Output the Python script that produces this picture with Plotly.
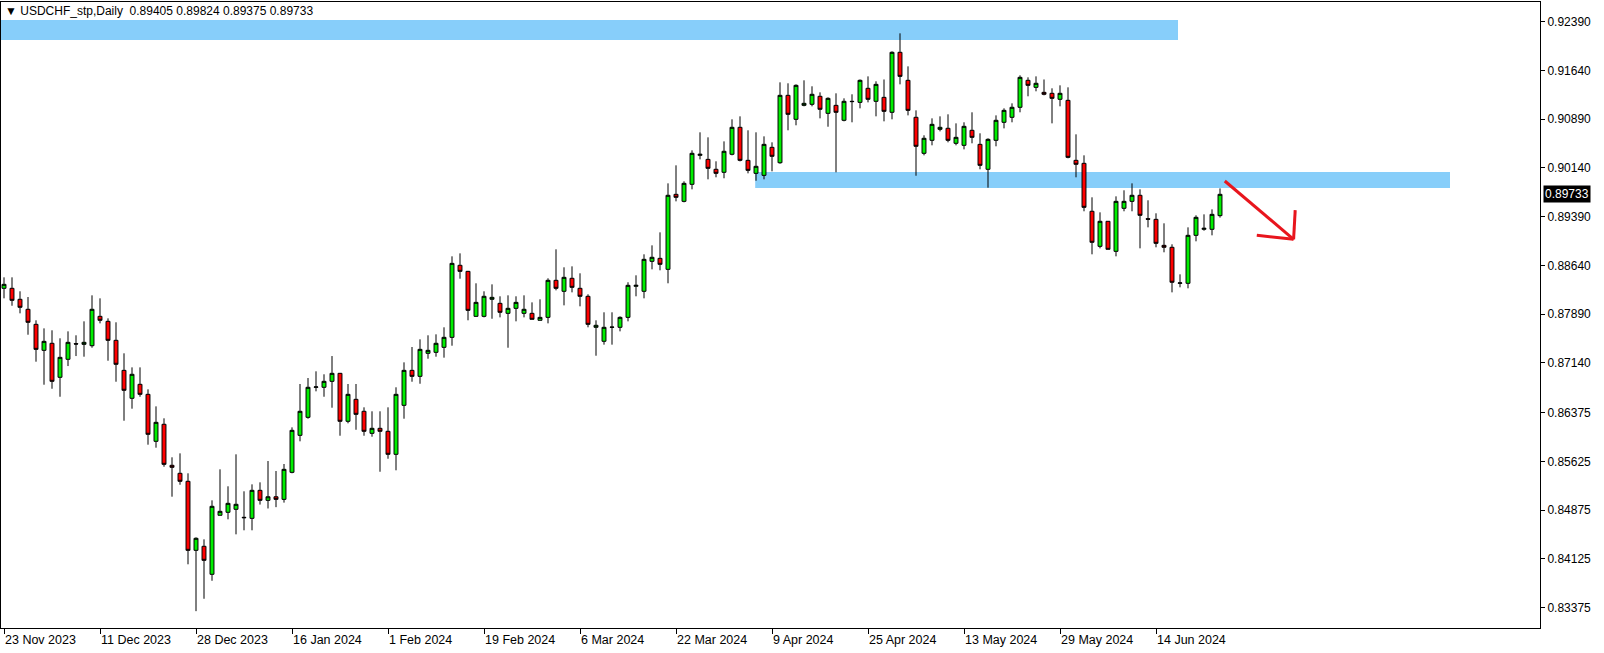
import plotly.graph_objects as go
import pandas as pd

# ---------------- data (USDCHF_stp, Daily) ----------------
opens = [0.88287, 0.88287, 0.88118, 0.87964, 0.87733, 0.87333, 0.87441, 0.86918, 0.87195, 0.87435,
         0.87425, 0.87404, 0.87856, 0.87779, 0.87487, 0.87025, 0.86595, 0.86810, 0.86656, 0.85933,
         0.86195, 0.85564, 0.85441, 0.85318, 0.84256, 0.84318, 0.83887, 0.84795, 0.84841, 0.84887,
         0.84764, 0.84748, 0.85179, 0.85025, 0.85080, 0.85040, 0.85456, 0.86025, 0.86302, 0.86764,
         0.86764, 0.86856, 0.86979, 0.86241, 0.86579, 0.86395, 0.86056, 0.86133, 0.86087, 0.85733,
         0.86487, 0.87025, 0.86933, 0.87287, 0.87302, 0.87379, 0.87533, 0.88641, 0.88548, 0.87856,
         0.87856, 0.88118, 0.88056, 0.87902, 0.87979, 0.87902, 0.87902, 0.87795, 0.87840, 0.88410,
         0.88241, 0.88441, 0.88287, 0.88164, 0.87687, 0.87472, 0.87687, 0.87687, 0.87840, 0.88318,
         0.88241, 0.88702, 0.88748, 0.88579, 0.89733, 0.89625, 0.89887, 0.90333, 0.90271, 0.90118,
         0.90072, 0.90349, 0.90764, 0.90256, 0.90056, 0.90025, 0.90456, 0.90219, 0.91256, 0.90887,
         0.91102, 0.91118, 0.91241, 0.90979, 0.91102, 0.90872, 0.91164, 0.91148, 0.91364, 0.91164,
         0.91225, 0.90995, 0.91918, 0.91487, 0.90918, 0.90364, 0.90564, 0.90733, 0.90749, 0.90518,
         0.90487, 0.90718, 0.90502, 0.90118, 0.90564, 0.90841, 0.90918, 0.91072, 0.91487, 0.91379,
         0.91302, 0.91287, 0.91195, 0.91179, 0.90256, 0.90210, 0.89472, 0.88933, 0.89318, 0.88856,
         0.89518, 0.89625, 0.89718, 0.89358, 0.89348, 0.88948, 0.88918, 0.88364, 0.88364, 0.89102,
         0.89195, 0.89195, 0.89405]
highs = [0.88456, 0.88456, 0.88241, 0.88153, 0.87795, 0.87671, 0.87641, 0.87518, 0.87625, 0.87564,
         0.87779, 0.88179, 0.88133, 0.87825, 0.87764, 0.87287, 0.87071, 0.87071, 0.86733, 0.86471,
         0.86287, 0.85687, 0.85748, 0.85441, 0.84456, 0.84425, 0.85025, 0.85502, 0.85241, 0.85733,
         0.85164, 0.85271, 0.85302, 0.85630, 0.85476, 0.85584, 0.86148, 0.86815, 0.86907, 0.87010,
         0.86964, 0.87245, 0.86985, 0.86815, 0.86815, 0.86456, 0.86395, 0.86395, 0.86456, 0.86764,
         0.87148, 0.87384, 0.87502, 0.87564, 0.87579, 0.87687, 0.88779, 0.88825, 0.88555, 0.88364,
         0.88241, 0.88348, 0.88164, 0.88179, 0.88164, 0.88179, 0.88071, 0.88118, 0.88441, 0.88887,
         0.88610, 0.88625, 0.88518, 0.88195, 0.87795, 0.87918, 0.87918, 0.87856, 0.88380, 0.88487,
         0.88810, 0.88948, 0.89148, 0.89902, 0.90179, 0.89933, 0.90410, 0.90687, 0.90610, 0.90241,
         0.90548, 0.90887, 0.90933, 0.90718, 0.90687, 0.90625, 0.90533, 0.91456, 0.91441, 0.91425,
         0.91487, 0.91395, 0.91302, 0.91225, 0.91287, 0.91210, 0.91272, 0.91500, 0.91548, 0.91472,
         0.91500, 0.91933, 0.92210, 0.91702, 0.91025, 0.90641, 0.90902, 0.90933, 0.90964, 0.90825,
         0.90841, 0.90995, 0.90672, 0.90595, 0.90948, 0.91056, 0.91133, 0.91564, 0.91533, 0.91548,
         0.91500, 0.91364, 0.91410, 0.91379, 0.90656, 0.90333, 0.89687, 0.89456, 0.89318, 0.89702,
         0.89795, 0.89902, 0.89810, 0.89641, 0.89441, 0.89287, 0.88964, 0.88502, 0.89225, 0.89410,
         0.89425, 0.89502, 0.89824]
lows = [0.88133, 0.88019, 0.87902, 0.87573, 0.87158, 0.86804, 0.86742, 0.86619, 0.87091, 0.87245,
        0.87235, 0.87373, 0.87748, 0.87173, 0.86850, 0.86250, 0.86435, 0.86619, 0.85881, 0.85835,
        0.85542, 0.85081, 0.85265, 0.84041, 0.83320, 0.83511, 0.83788, 0.84795, 0.84733, 0.84502,
        0.84564, 0.84564, 0.84960, 0.84900, 0.84920, 0.84990, 0.85441, 0.85933, 0.86281, 0.86702,
        0.86619, 0.86450, 0.86019, 0.86210, 0.86111, 0.86019, 0.86004, 0.85465, 0.85665, 0.85487,
        0.86281, 0.86850, 0.86819, 0.87204, 0.87235, 0.87220, 0.87404, 0.88435, 0.87795, 0.87850,
        0.87840, 0.87819, 0.87840, 0.87373, 0.87779, 0.87840, 0.87810, 0.87795, 0.87748, 0.88256,
        0.88025, 0.88225, 0.88010, 0.87687, 0.87250, 0.87420, 0.87420, 0.87625, 0.87779, 0.88164,
        0.88133, 0.88579, 0.88564, 0.88364, 0.89625, 0.89610, 0.89810, 0.90271, 0.89964, 0.89995,
        0.89980, 0.90333, 0.90240, 0.90056, 0.89942, 0.89964, 0.90087, 0.90204, 0.90718, 0.90795,
        0.91087, 0.91087, 0.90902, 0.90773, 0.90072, 0.90856, 0.90841, 0.91056, 0.91148, 0.90933,
        0.90856, 0.90887, 0.91425, 0.90948, 0.90019, 0.90333, 0.90487, 0.90702, 0.90533, 0.90487,
        0.90425, 0.90518, 0.90118, 0.89835, 0.90472, 0.90748, 0.90841, 0.90995, 0.91241, 0.91318,
        0.91256, 0.90825, 0.91087, 0.90287, 0.89995, 0.89472, 0.88810, 0.88902, 0.88887, 0.88779,
        0.89472, 0.89472, 0.88902, 0.89225, 0.88918, 0.88841, 0.88225, 0.88302, 0.88287, 0.89010,
        0.89173, 0.89102, 0.89375]
closes = [0.88348, 0.88102, 0.87995, 0.87764, 0.87348, 0.87471, 0.86856, 0.87225, 0.87456, 0.87430,
          0.87456, 0.87964, 0.87795, 0.87487, 0.87118, 0.86718, 0.86964, 0.86656, 0.86041, 0.86225,
          0.85579, 0.85533, 0.85318, 0.84256, 0.84441, 0.84102, 0.84933, 0.84856, 0.84979, 0.84964,
          0.84758, 0.85179, 0.85025, 0.85080, 0.85040, 0.85502, 0.86102, 0.86395, 0.86764, 0.86770,
          0.86856, 0.86979, 0.86241, 0.86656, 0.86348, 0.86087, 0.86133, 0.86087, 0.85733, 0.86656,
          0.87025, 0.86933, 0.87348, 0.87333, 0.87441, 0.87533, 0.88671, 0.88548, 0.87948, 0.88071,
          0.88164, 0.88148, 0.87918, 0.87979, 0.88071, 0.87964, 0.87810, 0.87840, 0.88410, 0.88287,
          0.88456, 0.88302, 0.88164, 0.87733, 0.87718, 0.87687, 0.87690, 0.87840, 0.88333, 0.88333,
          0.88733, 0.88764, 0.88656, 0.89718, 0.89687, 0.89902, 0.90364, 0.90349, 0.90133, 0.90056,
          0.90395, 0.90764, 0.90256, 0.90102, 0.90164, 0.90502, 0.90318, 0.91256, 0.90964, 0.91410,
          0.91133, 0.91272, 0.91041, 0.91210, 0.90995, 0.91164, 0.91160, 0.91487, 0.91195, 0.91425,
          0.91010, 0.91918, 0.91548, 0.91025, 0.90472, 0.90595, 0.90810, 0.90764, 0.90564, 0.90610,
          0.90779, 0.90610, 0.90179, 0.90579, 0.90872, 0.91025, 0.91072, 0.91533, 0.91410, 0.91441,
          0.91272, 0.91210, 0.91287, 0.90302, 0.90195, 0.89533, 0.88995, 0.89318, 0.88887, 0.89625,
          0.89625, 0.89718, 0.89410, 0.89350, 0.88979, 0.88918, 0.88380, 0.88370, 0.89102, 0.89379,
          0.89210, 0.89425, 0.89733]

holidays = ["2023-12-25", "2024-01-01"]
dates = [d for d in pd.bdate_range("2023-11-23", "2024-07-31")
         if d.strftime("%Y-%m-%d") not in holidays][:len(closes)]

x_tick_labels = ["23 Nov 2023", "11 Dec 2023", "28 Dec 2023", "16 Jan 2024", "1 Feb 2024",
                 "19 Feb 2024", "6 Mar 2024", "22 Mar 2024", "9 Apr 2024", "25 Apr 2024",
                 "13 May 2024", "29 May 2024", "14 Jun 2024"]
y_tick_values = [0.92390, 0.91640, 0.90890, 0.90140, 0.89390, 0.88640, 0.87890,
                 0.87140, 0.86375, 0.85625, 0.84875, 0.84125, 0.83375]

# drawn objects (bar-index, price)
resistance_zone_x = [-0.375, 146.75]
resistance_zone_y = [0.92107, 0.92415]
support_zone_x = [93.9, 180.75]
support_zone_y = [0.89830, 0.90076]
arrow_x = [152.6, 161.2, None, 156.6, 161.2, None, 161.4, 161.2]
arrow_y = [0.89938, 0.89041, None, 0.89102, 0.89041, None, 0.89491, 0.89041]

title_text = "\u25BC USDCHF_stp,Daily  0.89405 0.89824 0.89375 0.89733"
last_price = closes[-1]

# ---------------- figure ----------------
idx = list(range(len(closes)))
date_labels = [f"{d.day} {d.strftime('%b %Y')}" for d in dates]
x_tick_pos = [date_labels.index(lbl) for lbl in x_tick_labels]

FONT = "Liberation Sans, Arial, sans-serif"

fig = go.Figure()
fig.add_trace(go.Candlestick(
    x=idx, open=opens, high=highs, low=lows, close=closes,
    increasing=dict(line=dict(color="black", width=1), fillcolor="#00ee00"),
    decreasing=dict(line=dict(color="black", width=1), fillcolor="#ff0000"),
    whiskerwidth=0, showlegend=False, hoverinfo="skip",
))
fig.add_trace(go.Scatter(
    x=arrow_x, y=arrow_y, mode="lines",
    line=dict(color="#e8151d", width=3), showlegend=False, hoverinfo="skip",
))

for zx, zy in [(resistance_zone_x, resistance_zone_y), (support_zone_x, support_zone_y)]:
    fig.add_shape(type="rect", xref="x", yref="y", x0=zx[0], x1=zx[1], y0=zy[0], y1=zy[1],
                  fillcolor="#87cefa", line=dict(width=0), layer="below")

fig.add_annotation(xref="paper", yref="paper", x=0, y=1, xanchor="left", yanchor="top",
                   text=title_text, showarrow=False, xshift=2, yshift=0,
                   font=dict(family=FONT, size=12, color="black"))
fig.add_annotation(xref="paper", yref="y", x=1, y=last_price, xanchor="left", yanchor="middle",
                   text=f"{last_price:.5f}", showarrow=False, xshift=3,
                   bgcolor="black", borderpad=1,
                   font=dict(family=FONT, size=12, color="white"))

fig.update_layout(
    width=1604, height=653,
    margin=dict(l=1, r=64, t=2, b=25, autoexpand=False),
    paper_bgcolor="white", plot_bgcolor="white",
    boxgap=0.3,
    font=dict(family=FONT, size=12, color="black"),
    xaxis=dict(
        range=[-0.375, 192], rangeslider=dict(visible=False), automargin=False,
        tickmode="array", tickvals=x_tick_pos, ticktext=x_tick_labels,
        ticks="outside", ticklen=5, tickcolor="black", ticklabelposition="outside right",
        showgrid=False, zeroline=False, showline=True, linecolor="black", linewidth=1, mirror=True,
        tickfont=dict(family=FONT, size=12.5, color="black"),
    ),
    yaxis=dict(
        side="right", range=[0.83061, 0.92692], automargin=False,
        tickmode="array", tickvals=y_tick_values, ticktext=[f"{v:.5f}" for v in y_tick_values],
        ticks="outside", ticklen=4, tickcolor="black",
        showgrid=False, zeroline=False, showline=True, linecolor="black", linewidth=1, mirror=True,
        tickfont=dict(family=FONT, size=12, color="black"),
    ),
)

fig.write_html("out.html", config={"displayModeBar": False},
               post_script="document.body.style.margin='0px';")
